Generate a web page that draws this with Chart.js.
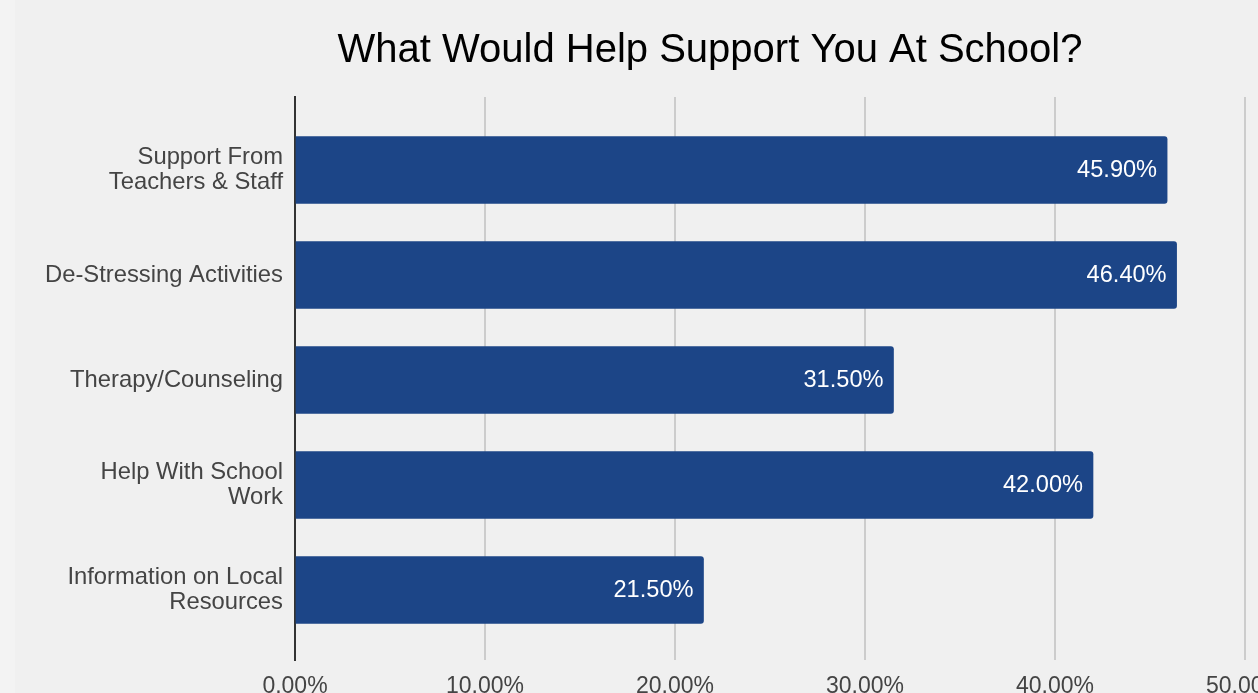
<!DOCTYPE html>
<html>
<head>
<title>What Would Help Support You At School?</title>
<script src="https://cdn.jsdelivr.net/npm/chart.js@4.4.1/dist/chart.umd.min.js"></script>
<style>
    body { margin: 0; background: #f0f0f0; overflow: hidden; }
    #edge { position: absolute; left: 0; top: 0; width: 15px; height: 693px; background: #f3f3f3; }
    canvas { position: absolute; left: 0; top: 0; }
</style>
</head>
<body>
<div id="edge"></div>
<canvas id="chart" width="1420" height="720"></canvas>
<script>
const categories = [
    ['Support From', 'Teachers & Staff'],
    'De-Stressing Activities',
    'Therapy/Counseling',
    ['Help With School', 'Work'],
    ['Information on Local', 'Resources']
];
const values = [45.9, 46.4, 31.5, 42.0, 21.5];
const xTicks = [0, 10, 20, 30, 40, 50];

const FONT = '"Liberation Sans", Arial, sans-serif';

// white value text at the end of each bar
const barLabels = {
    id: 'barLabels',
    afterDatasetsDraw(chart) {
        const ctx = chart.ctx;
        const meta = chart.getDatasetMeta(0);
        ctx.save();
        ctx.font = '23.6px ' + FONT;
        ctx.fillStyle = '#ffffff';
        ctx.textAlign = 'right';
        ctx.textBaseline = 'middle';
        meta.data.forEach((bar, i) => {
            ctx.fillText(values[i].toFixed(2) + '%', bar.x - 10, bar.y + 1);
        });
        ctx.restore();
    }
};

new Chart(document.getElementById('chart').getContext('2d'), {
    type: 'bar',
    data: {
        datasets: [{
            data: values.map((v, i) => ({ x: v, y: i })),
            backgroundColor: '#1c4587',
            borderRadius: 3,
            barThickness: 67,
            yAxisID: 'y'
        }]
    },
    options: {
        indexAxis: 'y',
        responsive: false,
        animation: false,
        layout: { padding: 0 },
        plugins: {
            legend: { display: false },
            tooltip: { enabled: false },
            title: {
                display: true,
                text: 'What Would Help Support You At School?',
                color: '#000000',
                font: { family: FONT, size: 40, weight: 'normal', lineHeight: 1.2 },
                padding: { top: 27, bottom: 22 }
            }
        },
        scales: {
            x: {
                type: 'linear',
                min: 0,
                max: 50,
                afterBuildTicks: s => { s.ticks = xTicks.map(v => ({ value: v })); },
                afterFit: s => { s.height = 60; },
                grid: { color: '#cccccc', lineWidth: 2, drawTicks: false },
                border: { display: false },
                ticks: {
                    color: '#444444',
                    font: { family: FONT, size: 23 },
                    padding: 13,
                    callback: v => v.toFixed(2) + '%'
                }
            },
            y: {
                type: 'linear',
                reverse: true,
                offset: false,
                min: -0.695,
                max: 4.667,
                afterBuildTicks: s => { s.ticks = categories.map((c, i) => ({ value: i })); },
                afterFit: s => { s.width = 295; },
                grid: { display: false, drawTicks: false },
                border: { display: true, color: '#333333', width: 2 },
                ticks: {
                    color: '#444444',
                    font: { family: FONT, size: 23.8, lineHeight: 1.02 },
                    padding: 12,
                    callback: v => categories[v]
                }
            },
            // empty right-hand axis: keeps the plot's right edge at the 50% line
            yRight: {
                type: 'linear',
                position: 'right',
                display: true,
                afterFit: s => { s.width = 175; },
                grid: { display: false, drawTicks: false },
                border: { display: false },
                ticks: { display: false }
            }
        }
    },
    plugins: [barLabels]
});
</script>
</body>
</html>
